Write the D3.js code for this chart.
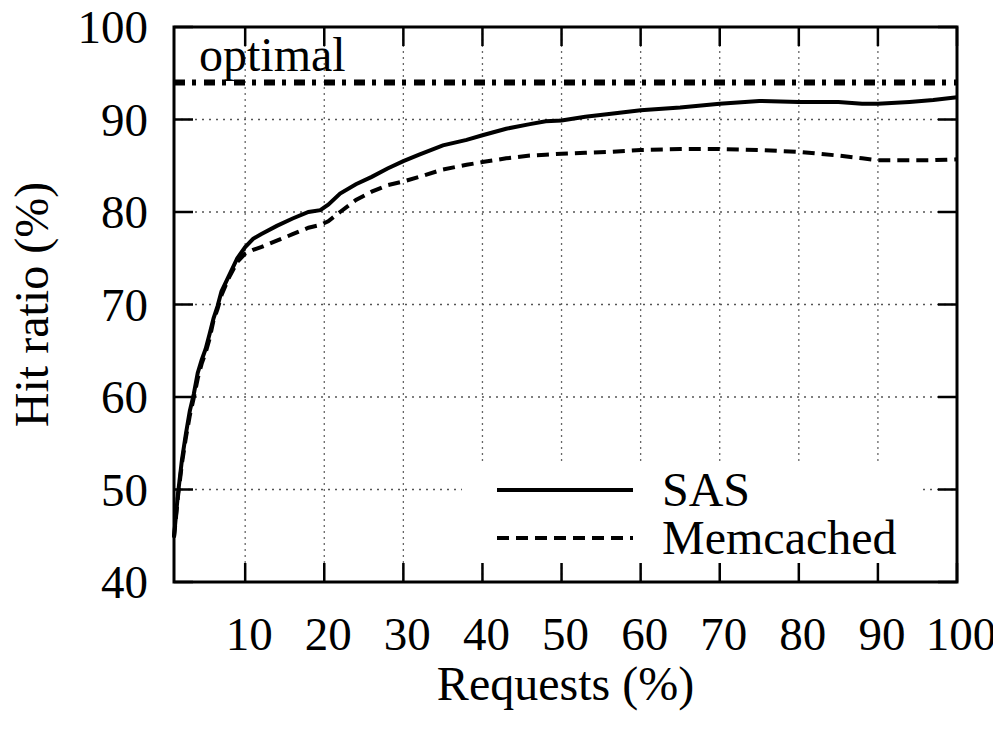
<!DOCTYPE html>
<html>
<head>
<meta charset="utf-8">
<script src="https://cdnjs.cloudflare.com/ajax/libs/d3/7.8.5/d3.min.js"></script>
<style>
  body { margin: 0; background: #fff; }
  text { font-family: "Liberation Serif", "Times New Roman", Times, "DejaVu Serif", serif; }
</style>
</head>
<body>
<div id="vis1"></div>
<script>
// chart values
const REQUESTS = [1, 1.5, 2, 2.5, 3, 3.5, 4, 4.5, 5, 5.5, 6, 6.5, 7, 8, 9, 10, 11, 12, 14, 16, 18, 19.5, 20.5, 22, 24, 26, 28, 30, 32, 35, 38, 40, 43, 46, 48, 50, 53, 56, 60, 65, 70, 75, 80, 85, 88, 90, 94, 97, 100];
const SAS = [44.9, 49.5, 53.2, 56, 58.5, 60.3, 62.6, 64, 65.2, 66.8, 68.5, 69.8, 71.4, 73.2, 75, 76.2, 77.1, 77.6, 78.5, 79.3, 80.0, 80.2, 80.8, 82.0, 83.0, 83.8, 84.7, 85.5, 86.2, 87.2, 87.8, 88.3, 89.0, 89.5, 89.8, 89.9, 90.3, 90.6, 91.0, 91.3, 91.7, 92.0, 91.9, 91.9, 91.7, 91.7, 91.9, 92.1, 92.4];
const MEMCACHED = [44.8, 49.2, 52.8, 55.6, 58.0, 59.9, 62.0, 63.6, 64.8, 66.3, 68.3, 69.5, 71.0, 73.0, 74.6, 75.5, 75.9, 76.2, 76.9, 77.6, 78.3, 78.6, 79.0, 80.0, 81.3, 82.2, 82.9, 83.3, 83.8, 84.6, 85.1, 85.4, 85.8, 86.1, 86.2, 86.3, 86.4, 86.5, 86.7, 86.8, 86.8, 86.7, 86.5, 86.1, 85.8, 85.6, 85.6, 85.6, 85.7];
const OPTIMAL = 94;
const X_TICKS = [10, 20, 30, 40, 50, 60, 70, 80, 90, 100];
const Y_TICKS = [40, 50, 60, 70, 80, 90, 100];

const FONT = '"Liberation Serif", "Times New Roman", Times, "DejaVu Serif", serif';

const FRAME_WIDTH = 993;
const FRAME_HEIGHT = 731;
const MARGINS = {left: 174, right: 36, top: 27, bottom: 149};
const VIS_WIDTH = FRAME_WIDTH - MARGINS.left - MARGINS.right;
const VIS_HEIGHT = FRAME_HEIGHT - MARGINS.top - MARGINS.bottom;

const FRAME1 = d3.select('#vis1')
        .append('svg')
          .attr('width', FRAME_WIDTH)
          .attr('height', FRAME_HEIGHT)
          .attr('font-family', FONT);

const X_SCALE = d3.scaleLinear().domain([1, 100]).range([0, VIS_WIDTH]);
const Y_SCALE = d3.scaleLinear().domain([40, 100]).range([VIS_HEIGHT, 0]);

const G = FRAME1.append('g')
    .attr('transform', 'translate(' + MARGINS.left + ',' + MARGINS.top + ')');

// grid
G.selectAll('.vgrid')
  .data(X_TICKS.filter(d => d < 100))
  .enter()
  .append('line')
    .attr('x1', d => X_SCALE(d)).attr('x2', d => X_SCALE(d))
    .attr('y1', 0).attr('y2', VIS_HEIGHT)
    .attr('stroke', '#666').attr('stroke-width', 1.3)
    .attr('stroke-dasharray', '2,4');

G.selectAll('.hgrid')
  .data(Y_TICKS.filter(d => d > 40 && d < 100))
  .enter()
  .append('line')
    .attr('x1', 0).attr('x2', VIS_WIDTH)
    .attr('y1', d => Y_SCALE(d)).attr('y2', d => Y_SCALE(d))
    .attr('stroke', '#555').attr('stroke-width', 1.3)
    .attr('stroke-dasharray', '2,5');

// legend box hides the grid
G.append('rect')
  .attr('x', 288).attr('y', 438)
  .attr('width', 456).attr('height', 99)
  .attr('fill', '#fff');

// ticks, mirrored on all four sides
const TICK = 19;
X_TICKS.forEach(d => {
  G.append('line').attr('x1', X_SCALE(d)).attr('x2', X_SCALE(d))
    .attr('y1', VIS_HEIGHT).attr('y2', VIS_HEIGHT - TICK)
    .attr('stroke', '#000').attr('stroke-width', 2.5);
  G.append('line').attr('x1', X_SCALE(d)).attr('x2', X_SCALE(d))
    .attr('y1', 0).attr('y2', TICK)
    .attr('stroke', '#000').attr('stroke-width', 2.5);
});
Y_TICKS.forEach(d => {
  G.append('line').attr('x1', 0).attr('x2', TICK)
    .attr('y1', Y_SCALE(d)).attr('y2', Y_SCALE(d))
    .attr('stroke', '#000').attr('stroke-width', 2.5);
  G.append('line').attr('x1', VIS_WIDTH).attr('x2', VIS_WIDTH - TICK)
    .attr('y1', Y_SCALE(d)).attr('y2', Y_SCALE(d))
    .attr('stroke', '#000').attr('stroke-width', 2.5);
});

// tick labels
G.selectAll('.xlab')
  .data(X_TICKS)
  .enter()
  .append('text')
    .attr('x', d => X_SCALE(d) + 4)
    .attr('y', VIS_HEIGHT + 68)
    .attr('text-anchor', 'middle')
    .attr('font-family', FONT)
    .attr('font-size', '47px')
    .text(d => d);

G.selectAll('.ylab')
  .data(Y_TICKS)
  .enter()
  .append('text')
    .attr('x', -26)
    .attr('y', d => Y_SCALE(d))
    .attr('dy', '0.35em')
    .attr('text-anchor', 'end')
    .attr('font-family', FONT)
    .attr('font-size', '47px')
    .text(d => d);

// axis titles
FRAME1.append('text')
  .attr('x', MARGINS.left + VIS_WIDTH / 2)
  .attr('y', 700)
  .attr('text-anchor', 'middle')
  .attr('font-family', FONT)
  .attr('font-size', '48px')
  .text('Requests (%)');

FRAME1.append('text')
  .attr('transform', 'translate(48,' + (MARGINS.top + VIS_HEIGHT / 2) + ') rotate(-90)')
  .attr('text-anchor', 'middle')
  .attr('font-family', FONT)
  .attr('font-size', '48px')
  .text('Hit ratio (%)');

// optimal line
G.append('line')
  .attr('x1', X_SCALE(1)).attr('x2', X_SCALE(100))
  .attr('y1', Y_SCALE(OPTIMAL)).attr('y2', Y_SCALE(OPTIMAL))
  .attr('stroke', '#000').attr('stroke-width', 6)
  .attr('stroke-dasharray', '11,7,4,8');

G.append('text')
  .attr('x', 25).attr('y', 44)
  .attr('font-family', FONT)
  .attr('font-size', '48px')
  .text('optimal');

const LINE = d3.line()
  .x((d, i) => X_SCALE(REQUESTS[i]))
  .y(d => Y_SCALE(d));

G.append('path')
  .datum(MEMCACHED)
  .attr('d', LINE)
  .attr('fill', 'none')
  .attr('stroke', '#000').attr('stroke-width', 4)
  .attr('stroke-dasharray', '12,7');

G.append('path')
  .datum(SAS)
  .attr('d', LINE)
  .attr('fill', 'none')
  .attr('stroke', '#000').attr('stroke-width', 4);

// legend
const LEGEND = [{name: 'SAS', dash: null, y: 463}, {name: 'Memcached', dash: '12,7', y: 511}];
LEGEND.forEach(l => {
  G.append('line')
    .attr('x1', 323).attr('x2', 459)
    .attr('y1', l.y).attr('y2', l.y)
    .attr('stroke', '#000').attr('stroke-width', 4)
    .attr('stroke-dasharray', l.dash);
  G.append('text')
    .attr('x', 488).attr('y', l.y + 16)
    .attr('font-family', FONT)
    .attr('font-size', '48px')
    .text(l.name);
});

// frame
G.append('rect')
  .attr('x', 0).attr('y', 0)
  .attr('width', VIS_WIDTH).attr('height', VIS_HEIGHT)
  .attr('fill', 'none')
  .attr('stroke', '#000').attr('stroke-width', 3);
</script>
</body>
</html>
